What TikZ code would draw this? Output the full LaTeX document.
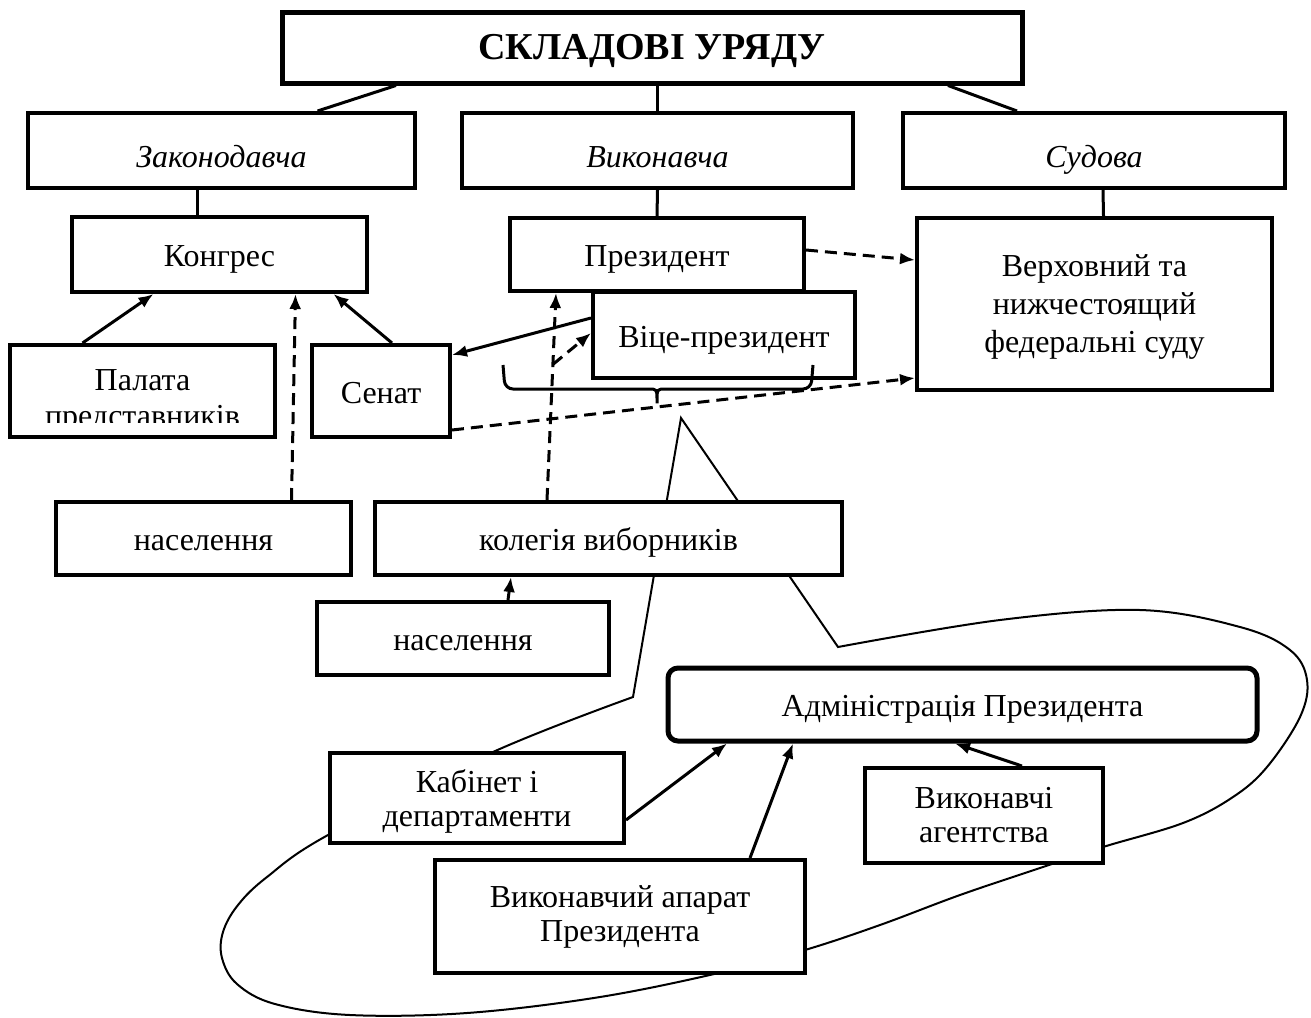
\documentclass[tikz,border=0pt]{standalone}
\usepackage{fontspec}
\setmainfont{Liberation Serif}
\usepackage{tikz}
\pgfdeclarelayer{bg}
\pgfsetlayers{bg,main}
\usetikzlibrary{arrows.meta,positioning,calc}

\tikzset{
  box/.style={draw, line width=2pt, fill=white, inner sep=0pt, align=center,
    font=\fontsize{16}{17}\selectfont},
  one/.style={text height=12pt, text depth=0pt},
  branch/.style={box, font=\fontsize{16}{17}\selectfont\itshape, text height=17pt, text depth=0pt},
  sz/.style 2 args={minimum width=#1, minimum height=#2},
  conn/.style={line width=1.5pt},
  link/.style={line width=1.5pt, -{Latex[length=7.5pt,width=6pt]}},
  dlink/.style={link, dash pattern=on 6pt off 3.5pt},
  callout/.style={line width=1pt}
}

\begin{document}
\begin{tikzpicture}[x=0.5pt, y=-0.5pt]
  \useasboundingbox (0,0) rectangle (1311,1017);

  % branches of government
  \node[box, sz={370pt}{35.5pt}, line width=2.5pt, text height=13pt, text depth=1.5pt,
    font=\fontsize{19}{22}\selectfont\bfseries] (title) at (652,47.5) {СКЛАДОВІ УРЯДУ};
  \node[branch, sz={193.5pt}{37.5pt}] (leg) at (221.5,150.5) {Законодавча};
  \node[branch, sz={195.5pt}{37.5pt}] (exe) at (657.5,150.5) {Виконавча};
  \node[branch, sz={191pt}{37.5pt}] (jud) at (1094,150.5) {Судова};

  % institutions
  \node[box, one, sz={147.5pt}{37.5pt}] (cong) at (219.5,254.5) {Конгрес};
  \node[box, one, sz={147pt}{36.5pt}] (pres) at (657,254.5) {Президент};
  \node[box, sz={177.5pt}{86pt}, font=\fontsize{16}{19}\selectfont, text depth=-4.5pt]
    (court) at (1094.5,304) {Верховний та\\нижчестоящий\\федеральні суду};
  \node[box, sz={132.5pt}{46pt}] (house) at (142.5,391) {};
  \begin{scope}
    \clip (house.north west) rectangle ([yshift=8.5pt]house.south east);
    \node[anchor=base, font=\fontsize{16}{17}\selectfont] (house1) at (142.5,390) {Палата};
    \node[anchor=base, font=\fontsize{16}{17}\selectfont] (house2) at (142.5,426) {представників};
  \end{scope}
  \node[box, one, sz={69pt}{46pt}] (sen) at (381,391) {Сенат};
  \node[box, one, sz={131pt}{43pt}] (vice) at (724,335) {Віце-президент};

  % voters
  \node[box, one, sz={147.5pt}{36.5pt}] (pop1) at (203.5,538.5) {населення};
  \node[box, one, sz={233.5pt}{36.5pt}] (elect) at (608.5,538.5) {колегія виборників};
  \node[box, one, sz={146pt}{36.5pt}] (pop2) at (463,638.5) {населення};

  % executive office
  \node[box, one, sz={294.5pt}{36.5pt}, line width=2.5pt, rounded corners=5pt] (adm) at (962.5,704.5)
    {Адміністрація Президента};
  \node[box, sz={147pt}{45pt}, text depth=0pt] (cab) at (477,798) {Кабінет і\\департаменти};
  \node[box, sz={185pt}{56.5pt}] (eop) at (620,916.5) {Виконавчий апарат\\Президента};
  \node[box, sz={119pt}{47.5pt}] (agen) at (984,815.5) {Виконавчі\\агентства};

  % tree lines
  \draw[conn] ([xshift=-128pt]title.south) -- ([xshift=48pt]leg.north);
  \draw[conn] (title.south -| exe.north) -- (exe.north);
  \draw[conn] ([xshift=148pt]title.south) -- ([xshift=-38.5pt]jud.north);
  \draw[conn] ([xshift=-12pt]leg.south) -- ([xshift=-11pt]cong.north);
  \draw[conn] (exe.south) -- (pres.north);
  \draw[conn] ([xshift=4.5pt]jud.south) -- ([xshift=4.5pt]court.north);

  % arrows
  \draw[link] ([xshift=-30pt]house.north) -- ([xshift=-33pt]cong.south);
  \draw[link] ([xshift=5.5pt]sen.north) -- ([xshift=57pt]cong.south);
  \draw[dlink] ([xshift=44pt]pop1.north) -- ([xshift=38pt]cong.south);
  \draw[dlink] ([yshift=2.25pt]pres.east) -- ([yshift=22pt]court.west);
  \draw[dlink] ([yshift=-19.5pt]sen.east) -- ([yshift=-37pt]court.west);
  \draw[link] ([yshift=8.5pt]vice.west) -- ([yshift=18pt]sen.east);
  \coordinate (e1) at ([xshift=-30.75pt]elect.north);
  \coordinate (p1) at ([xshift=-50.5pt]pres.south);
  \draw[dlink] (e1) -- (p1);
  \coordinate (fork) at ($(e1)!0.655!(p1)$);
  \draw[dlink] (fork) -- ([yshift=1pt]vice.west);
  \draw[link] ([xshift=22.5pt]pop2.north) -- ([xshift=-48.75pt]elect.south);
  \draw[link] ([yshift=-11pt]cab.east) -- ([xshift=-117.75pt]adm.south);
  \draw[link] ([xshift=65pt]eop.north) -- ([xshift=-84.75pt]adm.south);
  \draw[link] ([xshift=19pt]agen.north) -- ([xshift=-3.75pt]adm.south);

  % brace under the president and vice-president
  \coordinate (bl) at (503,365);
  \coordinate (br) at (813,365);
  \draw[conn, rounded corners=4pt] (bl) -- (505,389) -- (640,389)
    .. controls (657,389) .. (657,408) .. controls (657,389) .. (674,389)
    -- (811,389) -- (br);

  \begin{pgfonlayer}{bg}
    \coordinate (apex) at (681,418);
    \draw[callout] (apex) -- plot[smooth, tension=0.6] coordinates {
      (838,647) (1000,620) (1140,610) (1240,627) (1290,650) (1307,680)
      (1300,717) (1267,767) (1233,797) (1183,823) (1103,847) (1040,868)
      (960,895) (880,925) (805,950) (723,972) (600,997) (467,1013)
      (350,1015) (275,1004) (237,984) (222,958) (223,932) (238,905)
      (267,877) (328,835) (493,752) (633,697)} -- cycle;
  \end{pgfonlayer}
\end{tikzpicture}
\end{document}
